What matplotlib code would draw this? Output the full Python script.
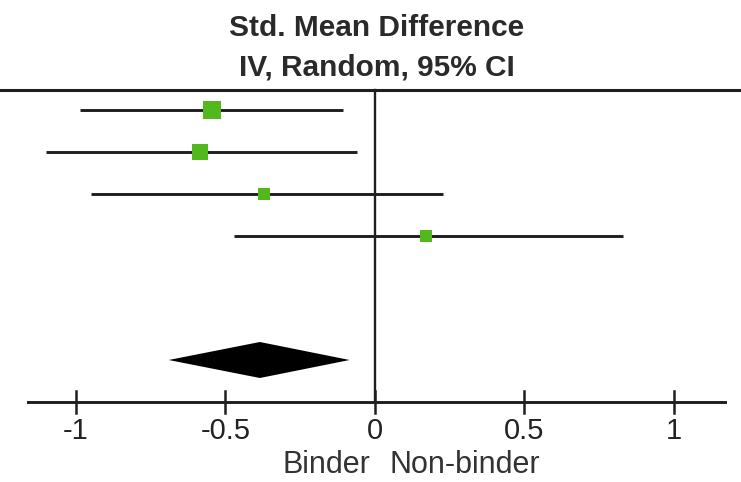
import numpy as np
import matplotlib
matplotlib.use("Agg")
import matplotlib.pyplot as plt

# study estimates (std. mean difference, 95% CI) and weights
smd = [-0.545, -0.585, -0.37, 0.17]
ci_low = [-0.985, -1.10, -0.95, -0.47]
ci_high = [-0.107, -0.06, 0.228, 0.83]
weight = [31.0, 25.5, 22.0, 21.5]

# pooled estimate
pooled = -0.385
pooled_low = -0.69
pooled_high = -0.085

ticks = [-1, -0.5, 0, 0.5, 1]
tick_labels = ["-1", "-0.5", "0", "0.5", "1"]

plt.rcParams['font.family'] = ['Liberation Sans', 'DejaVu Sans']

W, H = 741, 482
fig = plt.figure(figsize=(W / 100, H / 100), dpi=100)
ax = fig.add_axes([0, 0, 1, 1])
x0, unit = 375, 299.0   # pixel of zero, pixels per unit
ax.set_xlim(-x0 / unit, (W - x0) / unit)
ax.set_ylim(H, 0)
ax.axis("off")

ink = "#1e1e1e"
green = "#52b81e"

# header
ax.text(0.005, 28, "Std. Mean Difference", ha="center", va="center",
        fontsize=21.5, fontweight="bold", color="#2a2a2a")
ax.text(0.005, 67, "IV, Random, 95% CI", ha="center", va="center",
        fontsize=21.5, fontweight="bold", color="#2a2a2a")
ax.axhline(90, color=ink, lw=2.2)

axis_y = 402
# zero line
ax.plot([0, 0], [90, axis_y], color=ink, lw=1.7)

# studies
for i in range(len(smd)):
    y = 110 + 42 * i
    ax.plot([ci_low[i], ci_high[i]], [y, y], color=ink, lw=2.1, solid_capstyle="butt")
    side = weight[i] * 0.59 * 0.72
    ax.plot(smd[i], y, marker="s", ms=side, color=green, mec=green, mew=0)

# pooled diamond
dy = 360
ax.fill([pooled_low, pooled, pooled_high, pooled], [dy, dy - 18, dy, dy + 18],
        color="black", lw=0)

# x axis
ax.plot([-1.16, 1.17], [axis_y, axis_y], color=ink, lw=2.1)
for t, lab in zip(ticks, tick_labels):
    ax.plot([t, t], [axis_y - 11, axis_y + 11], color=ink, lw=1.8)
    ax.text(t, 431, lab, ha="center", va="center", fontsize=21, color="#222222")

ax.text(-0.015, 465, "Binder", ha="right", va="center", fontsize=22, color="#333333")
ax.text(0.05, 465, "Non-binder", ha="left", va="center", fontsize=22, color="#333333")

fig.savefig("out.png", dpi=100)
